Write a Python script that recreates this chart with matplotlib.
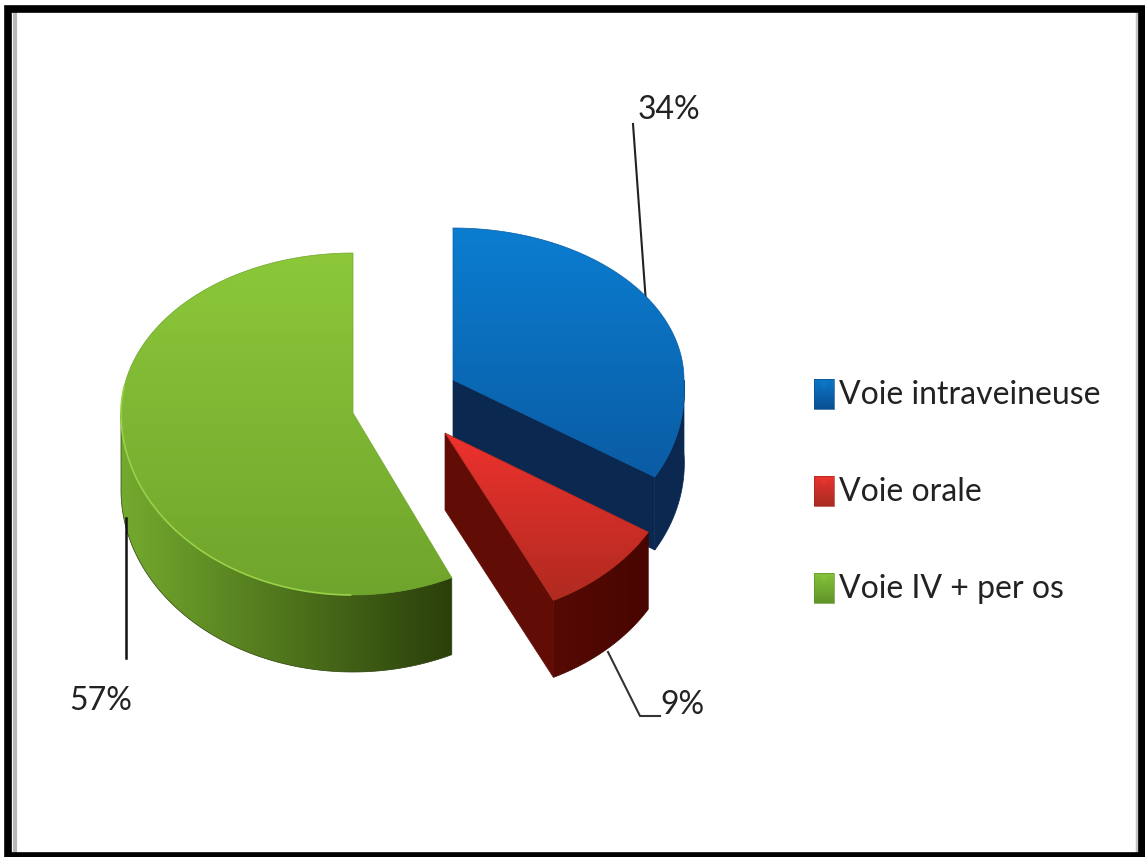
import matplotlib
matplotlib.use('Agg')
import matplotlib.pyplot as plt
import numpy as np
from matplotlib.colors import LinearSegmentedColormap
from matplotlib.patches import Polygon, Rectangle

# Data
categories = ['Voie intraveineuse', 'Voie orale', 'Voie IV + per os']
values = [34, 9, 57]
pct_labels = ['34%', '9%', '57%']

# Projected geometry of each exploded slice, in pixels
apex = [(453, 380), (445, 433), (353, 413)]
rx = [231, 235, 232]
ry_back = [152, 152, 160]
ry_front = [181, 185, 182]
shear = [0.07, 0.05, 0.0]
depth = [73, 77, 77]

top_cols = [('#0b7dd0', '#0a5ca4'), ('#ee322e', '#b02a20'), ('#8cc83a', '#6fa52c')]
side_cols = [('#0b2850', '#0b2850'), ('#560a04', '#480500'), ('#74aa2e', '#2a3f0a')]
wall_cols = ['#0b2850', '#620c06', '#2a3f0a']

fonts = ['Lato', 'Liberation Sans', 'DejaVu Sans']
text_col = '#222222'

fig = plt.figure(figsize=(11.45, 8.57), dpi=100)
ax = fig.add_axes([0, 0, 1, 1])
ax.axis('off')


def outline(i, theta):
    # point on the rim of slice i, theta in degrees clockwise from the top
    t = np.radians(theta)
    c = np.cos(t)
    ry = np.where(c > 0, ry_back[i], ry_front[i])
    dy = -ry * c
    return apex[i][0] + rx[i] * np.sin(t) + shear[i] * np.maximum(dy, 0), apex[i][1] + dy


def gradient(poly_xy, c0, c1, vertical=True, z=2):
    # gradient image clipped to a polygon
    cmap = LinearSegmentedColormap.from_list('g', [c0, c1])
    x0, y0 = poly_xy.min(axis=0)
    x1, y1 = poly_xy.max(axis=0)
    g = np.linspace(0, 1, 256)
    g = g.reshape(-1, 1) if vertical else g.reshape(1, -1)
    im = ax.imshow(g, cmap=cmap, extent=(x0, x1, y1, y0), aspect='auto', zorder=z)
    p = Polygon(poly_xy, closed=True, transform=ax.transData, fc='none', ec='none')
    ax.add_patch(p)
    im.set_clip_path(p)
    ax.add_patch(Polygon(poly_xy, closed=True, fc='none', ec=c1, lw=0.5, zorder=z))


cum = np.cumsum([0] + values) * 3.6
for i in [0, 2, 1]:
    a0, a1 = cum[i], cum[i + 1]
    z = 2 + [0, 2, 1].index(i) * 3
    th = np.linspace(a0, a1, 200)
    x, y = outline(i, th)
    d = depth[i]
    # outer side, only the part that faces the viewer
    ths = np.linspace(max(a0, 90), min(a1, 270), 200)
    sx, sy = outline(i, ths)
    side = np.column_stack([np.r_[sx, sx[::-1]], np.r_[sy, sy[::-1] + d]])
    gradient(side, side_cols[i][0], side_cols[i][1], vertical=False, z=z)
    # cut wall
    if i in (0, 1):
        ex, ey = x[-1], y[-1]
        ax.add_patch(Polygon([apex[i], (ex, ey), (ex, ey + d), (apex[i][0], apex[i][1] + d)],
                             closed=True, fc=wall_cols[i], ec=wall_cols[i], lw=0.5, zorder=z))
    # top face
    top = np.column_stack([np.r_[apex[i][0], x], np.r_[apex[i][1], y]])
    gradient(top, top_cols[i][0], top_cols[i][1], z=z + 1)
    if i == 2:
        rim = th[(th > 180) & (th < 280)]
        ax.plot(*outline(i, rim), color='#9ad24a', lw=1.2, zorder=z + 1)

# Leader lines
ax.plot([633, 646], [124, 303], color='#222222', lw=1.5, zorder=1)
ax.plot([608, 640, 660], [652, 716, 716], color='#333333', lw=1.5, zorder=1)
ax.plot([126, 126], [518, 658], color='#111111', lw=1.8, zorder=12)

# Percent labels
pct_pos = [(669, 110), (682, 705), (101, 701)]
for lab, (px, py) in zip(pct_labels, pct_pos):
    ax.text(px, py, lab, family=fonts, fontsize=23, color=text_col, ha='center', va='center')

# Legend
leg_y = [394, 491, 588]
leg_cols = [('#0a78c8', '#0b4f92'), ('#e8352f', '#a82a22'), ('#86c23a', '#5f9428')]
for name, ly, (c0, c1) in zip(categories, leg_y, leg_cols):
    sq = np.array([[814, ly - 15], [834, ly - 15], [834, ly + 15], [814, ly + 15]])
    gradient(sq, c0, c1, z=3)
    ax.add_patch(Polygon([[819, ly - 13], [829, ly - 13], [824, ly - 5]], closed=True,
                         fc=c0, ec='none', alpha=0.7, zorder=4))
    ax.text(839, ly + 1, name, family=fonts, fontsize=23, color=text_col, ha='left', va='center')

ax.set_xlim(0, 1145)
ax.set_ylim(857, 0)

# Image frame
ax.add_patch(Rectangle((8, 8.5), 1133.5, 847, fc='none', ec='black', lw=5.5, zorder=20))
ax.plot([15, 15], [13, 851], color='#b8b8b8', lw=3, zorder=19)
ax.plot([1136.5, 1136.5], [13, 851], color='#c4c4c4', lw=2.5, zorder=19)

fig.savefig('out.png', dpi=100)
